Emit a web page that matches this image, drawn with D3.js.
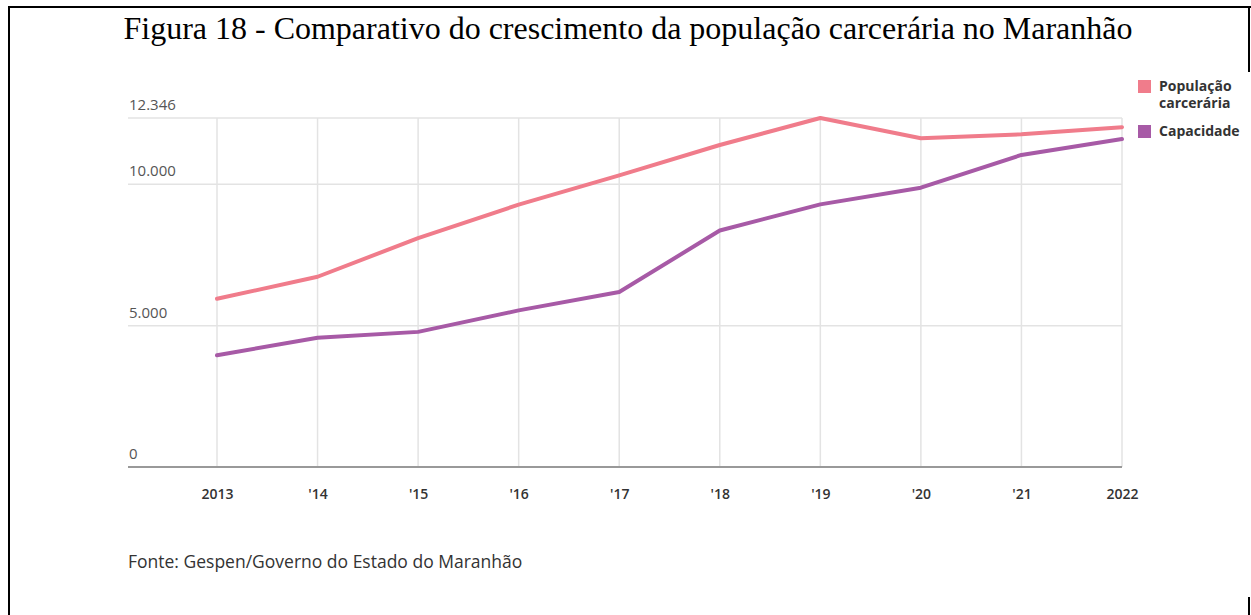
<!DOCTYPE html>
<html>
<head>
<meta charset="utf-8">
<script src="https://cdn.jsdelivr.net/npm/d3@7"></script>
<style>
  body { margin: 0; background: #fff; }
  svg { display: block; }
</style>
</head>
<body>
<div id="chart"></div>
<script>
// data
var years = [2013, 2014, 2015, 2016, 2017, 2018, 2019, 2020, 2021, 2022];
var yearLabels = ["2013", "'14", "'15", "'16", "'17", "'18", "'19", "'20", "'21", "2022"];
var populacao = [5950, 6730, 8095, 9280, 10315, 11390, 12346, 11630, 11770, 12020];
var capacidade = [3950, 4575, 4780, 5540, 6190, 8365, 9290, 9880, 11040, 11600];
var yTicks = [0, 5000, 10000, 12346];
var yTickLabels = ["0", "5.000", "10.000", "12.346"];
var seriesNames = ["População carcerária", "Capacidade"];

var W = 1251, H = 615;
var margin = { left: 217, right: W - 1122, top: 118, bottom: H - 467 };
var width = W - margin.left - margin.right;
var height = H - margin.top - margin.bottom;
var colors = ["#f07c8b", "#a75aa6"];
var sans = "'Open Sans', 'Noto Sans', sans-serif";

var svg = d3.select("#chart").append("svg")
    .attr("width", W)
    .attr("height", H);

// page frame like the source document
svg.append("line").attr("x1", 8).attr("x2", 1251).attr("y1", 7).attr("y2", 7)
    .attr("stroke", "#000").attr("stroke-width", 2);
svg.append("line").attr("x1", 9).attr("x2", 9).attr("y1", 6).attr("y2", 615)
    .attr("stroke", "#000").attr("stroke-width", 2);
svg.append("line").attr("x1", 1249).attr("x2", 1249).attr("y1", 6).attr("y2", 72)
    .attr("stroke", "#000").attr("stroke-width", 2);
svg.append("line").attr("x1", 1249).attr("x2", 1249).attr("y1", 597).attr("y2", 615)
    .attr("stroke", "#000").attr("stroke-width", 2);

svg.append("text")
    .attr("x", 628)
    .attr("y", 39)
    .attr("text-anchor", "middle")
    .attr("font-family", "'Liberation Serif', 'Times New Roman', serif")
    .attr("font-size", "32px")
    .attr("textLength", 1009)
    .attr("lengthAdjust", "spacingAndGlyphs")
    .attr("fill", "#000")
    .text("Figura 18 - Comparativo do crescimento da população carcerária no Maranhão");

var g = svg.append("g")
    .attr("transform", "translate(" + margin.left + "," + margin.top + ")");

var x = d3.scaleLinear().domain([2013, 2022]).range([0, width]);
var y = d3.scaleLinear().domain([0, 12346]).range([height, 0]);

var gridLeft = 128 - margin.left;

// vertical gridlines
g.selectAll(".vgrid")
    .data(years)
    .enter().append("line")
    .attr("class", "vgrid")
    .attr("x1", function (d) { return x(d); })
    .attr("x2", function (d) { return x(d); })
    .attr("y1", y(12346))
    .attr("y2", y(0))
    .attr("stroke", "#e3e3e3")
    .attr("stroke-width", 1.5);

// horizontal gridlines
g.selectAll(".hgrid")
    .data(yTicks.filter(function (d) { return d > 0; }))
    .enter().append("line")
    .attr("class", "hgrid")
    .attr("x1", gridLeft)
    .attr("x2", width)
    .attr("y1", function (d) { return y(d); })
    .attr("y2", function (d) { return y(d); })
    .attr("stroke", "#e3e3e3")
    .attr("stroke-width", 1.5);

// baseline
g.append("line")
    .attr("x1", gridLeft)
    .attr("x2", width)
    .attr("y1", y(0))
    .attr("y2", y(0))
    .attr("stroke", "#999")
    .attr("stroke-width", 2);

// y tick labels sit above their gridline
g.selectAll(".ylab")
    .data(yTicks)
    .enter().append("text")
    .attr("class", "ylab")
    .attr("x", gridLeft + 1)
    .attr("y", function (d) { return y(d) - 8; })
    .attr("font-family", sans)
    .attr("font-size", "15px")
    .attr("fill", "#555")
    .text(function (d, i) { return yTickLabels[i]; });

// x tick labels
var xAxis = d3.axisBottom(x)
    .tickValues(years)
    .tickSize(0)
    .tickPadding(22)
    .tickFormat(function (d, i) { return yearLabels[i]; });
var xg = g.append("g")
    .attr("transform", "translate(0," + height + ")")
    .call(xAxis);
xg.select(".domain").remove();
xg.selectAll("text")
    .attr("font-family", sans)
    .attr("font-size", "14px")
    .attr("font-weight", 600)
    .attr("fill", "#333");

var line = d3.line()
    .x(function (d, i) { return x(years[i]); })
    .y(function (d) { return y(d); });

[populacao, capacidade].forEach(function (s, i) {
    g.append("path")
        .datum(s)
        .attr("d", line)
        .attr("fill", "none")
        .attr("stroke", colors[i])
        .attr("stroke-width", 4)
        .attr("stroke-linejoin", "round")
        .attr("stroke-linecap", "round");
});

// legend
var legend = svg.append("g").attr("font-family", sans)
    .attr("font-size", "14px").attr("font-weight", 700).attr("fill", "#333");
legend.append("rect").attr("x", 1138).attr("y", 80).attr("width", 13).attr("height", 13).attr("fill", colors[0]);
legend.append("text").attr("x", 1159).attr("y", 91).text("População");
legend.append("text").attr("x", 1159).attr("y", 108).text("carcerária");
legend.append("rect").attr("x", 1138).attr("y", 125).attr("width", 13).attr("height", 13).attr("fill", colors[1]);
legend.append("text").attr("x", 1159).attr("y", 136).text(seriesNames[1]);

svg.append("text")
    .attr("x", 128)
    .attr("y", 568)
    .attr("font-family", sans)
    .attr("font-size", "17.5px")
    .attr("fill", "#333")
    .text("Fonte: Gespen/Governo do Estado do Maranhão");
</script>
</body>
</html>
